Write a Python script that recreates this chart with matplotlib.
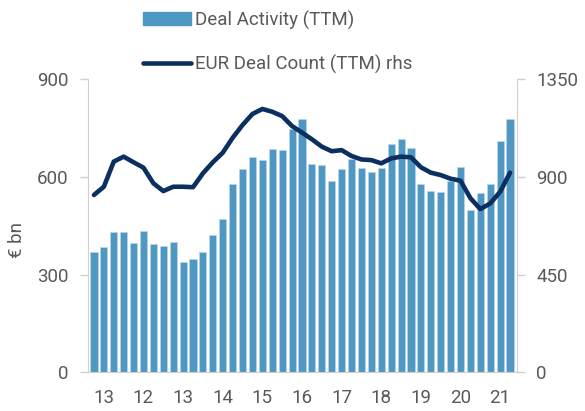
import matplotlib
matplotlib.use("Agg")
import matplotlib.pyplot as plt
import numpy as np
from matplotlib.lines import Line2D
from matplotlib.patches import Patch

deal_activity = [370, 385, 432, 432, 398, 434, 394, 388, 400, 340, 348, 369, 420, 470,
                 577, 625, 660, 653, 685, 683, 748, 778, 640, 637, 587, 625, 655, 629,
                 614, 629, 702, 718, 688, 578, 556, 554, 589, 630, 498, 550, 578, 712, 778]
deal_count = [817, 855, 971, 994, 968, 943, 871, 835, 855, 855, 853, 917, 968, 1012,
              1081, 1140, 1191, 1214, 1201, 1181, 1135, 1105, 1074, 1040, 1019, 1024, 997, 981,
              978, 963, 986, 994, 991, 945, 920, 909, 892, 883, 802, 752, 778, 832, 920]
tick_labels = ["13", "12", "13", "14", "15", "16", "17", "18", "19", "20", "21"]
tick_idx = [1, 5, 9, 13, 17, 21, 25, 29, 33, 37, 41]
left_ticks = [0, 300, 600, 900]
right_ticks = [0, 450, 900, 1350]

plt.rcParams['font.family'] = ['Roboto', 'DejaVu Sans']
gray = "#595959"
spine_c = "#D0D0D0"
bar_c = "#4F98C3"
line_c = "#0B2F5E"

fig = plt.figure(figsize=(5.85, 4.11), dpi=100)
ax = fig.add_axes([88/585, 1 - 372/411, (517-88)/585, (372-79.5)/411])
x = np.arange(len(deal_activity))
ax.bar(x, deal_activity, width=0.72, color=bar_c, edgecolor="#B9D6E8", linewidth=0.5, zorder=2)
ax.set_xlim(-0.6, len(x) - 0.3)
ax.set_ylim(0, 900)
ax.set_yticks(left_ticks)
ax.set_yticklabels([str(t) for t in left_ticks], fontsize=13.5, color=gray)
ax.set_xticks(tick_idx)
ax.set_xticklabels(tick_labels, fontsize=13.5, color=gray)
ax.tick_params(axis='x', length=0, pad=12)
ax.tick_params(axis='y', length=6, color=spine_c, width=1, pad=8)
for s in ["top", "right"]:
    ax.spines[s].set_visible(False)
ax.spines["left"].set_color(spine_c)
ax.spines["bottom"].set_color(spine_c)
ax.set_ylabel("€ bn", fontsize=13.5, color=gray)
ax.yaxis.set_label_coords(-0.145, 0.45)

ax2 = ax.twinx()
ax2.plot(x, deal_count, color=line_c, linewidth=3.3, solid_joinstyle='round', solid_capstyle='round', zorder=3)
ax2.set_ylim(0, 1350)
ax2.set_yticks(right_ticks)
ax2.set_yticklabels([str(t) for t in right_ticks], fontsize=13.5, color=gray)
ax2.tick_params(axis='y', length=6, color=spine_c, width=1, pad=8)
for s in ["top", "left", "bottom"]:
    ax2.spines[s].set_visible(False)
ax2.spines["right"].set_color(spine_c)

handles = [Patch(facecolor=bar_c, edgecolor=bar_c),
           Line2D([0], [0], color=line_c, linewidth=3.3, solid_capstyle='round')]
fig.legend(handles, ["Deal Activity (TTM)", "EUR Deal Count (TTM) rhs"],
           loc="upper left", bbox_to_anchor=(135/585, 1 - 3/411), ncol=1, frameon=False,
           fontsize=13.5, labelcolor=gray, handlelength=2.6, handletextpad=0.2,
           labelspacing=1.35, borderaxespad=0)

fig.savefig("out.png", dpi=100)
